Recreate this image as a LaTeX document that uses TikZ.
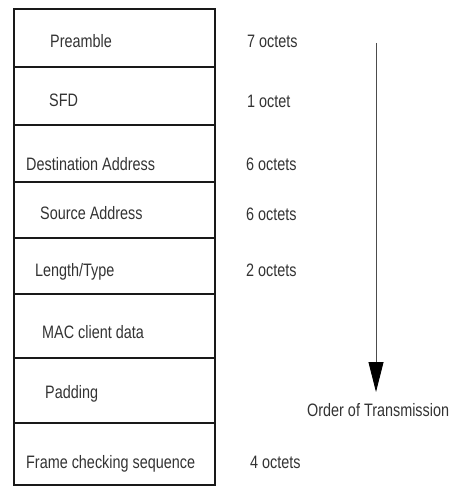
\documentclass[tikz,border=0pt]{standalone}
\usepackage{fontspec}
\setmainfont[FakeStretch=0.8]{Liberation Sans}
\usetikzlibrary{arrows.meta}
\begin{document}
\begin{tikzpicture}[x=1pt,y=-1pt,
  fieldbox/.style={draw=black!90, line width=1.5pt, inner sep=0pt, minimum width=201pt},
  lbl/.style={anchor=base west, inner sep=0pt, text=black!80, font=\fontsize{18}{20}\selectfont},
  arrowline/.style={draw=black!70, line width=0.9pt}]
  \useasboundingbox (0,0) rectangle (452,487);
  % frame fields (top, bottom edges in pt)
  \node[fieldbox, minimum height=58pt] (f1) at (114.5,38) {};
  \node[fieldbox, minimum height=58pt] (f2) at (114.5,96) {};
  \node[fieldbox, minimum height=57pt] (f3) at (114.5,153.5) {};
  \node[fieldbox, minimum height=56pt] (f4) at (114.5,210) {};
  \node[fieldbox, minimum height=56pt] (f5) at (114.5,266) {};
  \node[fieldbox, minimum height=64pt] (f6) at (114.5,326) {};
  \node[fieldbox, minimum height=65pt] (f7) at (114.5,390.5) {};
  \node[fieldbox, minimum height=62pt] (f8) at (114.5,454) {};
  % field names
  \node[lbl] (n1) at (50,48) {Preamble};
  \node[lbl] (n2) at (49,106) {SFD};
  \node[lbl] (n3) at (26,170) {Destination Address};
  \node[lbl] (n4) at (40,219) {Source Address};
  \node[lbl] (n5) at (35,276) {Length/Type};
  \node[lbl] (n6) at (42,338) {MAC client data};
  \node[lbl] (n7) at (45,398) {Padding};
  \node[lbl] (n8) at (26,468) {Frame checking sequence};
  % field sizes
  \node[lbl] (s1) at (247,48) {7 octets};
  \node[lbl] (s2) at (247,107) {1 octet};
  \node[lbl] (s3) at (246,170) {6 octets};
  \node[lbl] (s4) at (246,220) {6 octets};
  \node[lbl] (s5) at (246,276) {2 octets};
  \node[lbl] (s8) at (250,468) {4 octets};
  % transmission order
  \coordinate (astart) at (376,43);
  \coordinate (aend) at (376,392);
  \draw[arrowline, -{Triangle[width=15pt,length=30pt,fill=black,color=black]}] (astart) -- (aend);
  \node[lbl] (order) at (307,416) {Order of Transmission};
\end{tikzpicture}
\end{document}
